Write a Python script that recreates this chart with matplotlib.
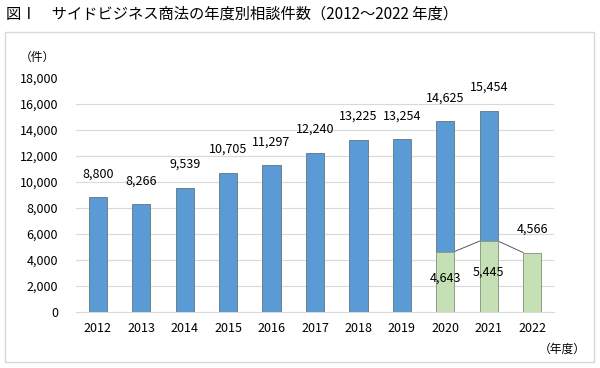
import numpy as np
import matplotlib.pyplot as plt
from matplotlib.patches import Rectangle

plt.rcParams['font.family'] = ['Noto Sans CJK JP', 'DejaVu Sans']

years = ['2012', '2013', '2014', '2015', '2016', '2017', '2018', '2019', '2020', '2021', '2022']
totals = [8800, 8266, 9539, 10705, 11297, 12240, 13225, 13254, 14625, 15454, 4566]
green = [0, 0, 0, 0, 0, 0, 0, 0, 4643, 5445, 4566]
title = '図Ⅰ　サイドビジネス商法の年度別相談件数（2012～2022 年度）'

blue_c = '#5B9BD5'
green_c = '#C5E0B4'

fig = plt.figure(figsize=(6, 3.68), dpi=100)
fig.patches.append(Rectangle((5 / 600, 1 - 362 / 368), 589 / 600, 330 / 368,
                             transform=fig.transFigure, fill=False,
                             edgecolor='#d9d9d9', linewidth=1))
fig.text(6 / 600, 1 - 14 / 368, title, fontsize=11, va='center', ha='left')
fig.text(20 / 600, 1 - 57 / 368, '（件）', fontsize=8.5, va='center', ha='left')
fig.text(586 / 600, 1 - 349 / 368, '（年度）', fontsize=8.5, va='center', ha='right')

ax = fig.add_axes([76 / 600, 1 - 312 / 368, 478 / 600, 234.5 / 368])
x = np.arange(len(years))
w = 0.42
blue = [t - g if i < 10 else 0 for i, (t, g) in enumerate(zip(totals, green))]

ax.bar(x[:10], blue[:10], w, bottom=green[:10], color=blue_c, edgecolor='#6f7f8f', linewidth=0.7, zorder=3)
ax.bar(x[8:], green[8:], w, color=green_c, edgecolor='#8f9a88', linewidth=0.7, zorder=3)

# series lines between green segments
for i in range(8, 10):
    ax.plot([x[i] + w / 2, x[i + 1] - w / 2], [green[i], green[i + 1]],
            color='#404040', linewidth=0.6, zorder=2)

for i in range(len(years)):
    ax.annotate(f'{totals[i]:,}', (x[i], totals[i]), xytext=(0, 12),
                textcoords='offset points', ha='center', va='bottom', fontsize=9)
for i in (8, 9):
    ax.text(x[i], green[i] / 2 + 300, f'{green[i]:,}', ha='center', va='center', fontsize=9, zorder=4)

ax.set_xlim(-0.5, len(years) - 0.5)
ax.set_ylim(0, 18000)
ax.set_yticks(np.arange(0, 18001, 2000))
ax.set_yticklabels([f'{v:,}' for v in range(0, 18001, 2000)])
ax.set_xticks(x)
ax.set_xticklabels(years)
ax.tick_params(length=0, labelsize=9)
ax.tick_params(axis='y', pad=13)
ax.tick_params(axis='x', pad=7)
ax.grid(axis='y', color='#d9d9d9', linewidth=0.8, zorder=0)
ax.set_axisbelow(True)
for s in ['top', 'right', 'left']:
    ax.spines[s].set_visible(False)
ax.spines['bottom'].set_color('#d9d9d9')

fig.savefig('out.png', dpi=100)
